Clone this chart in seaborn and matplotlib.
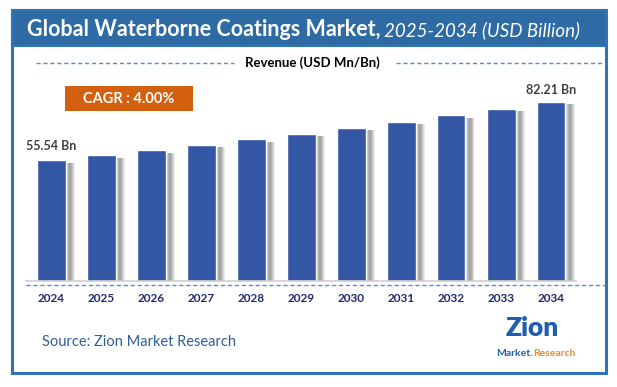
import numpy as np
import pandas as pd
import matplotlib
matplotlib.use("Agg")
import matplotlib.pyplot as plt
import seaborn as sns
from matplotlib.patches import Rectangle
from matplotlib.lines import Line2D

# data
years = ["2024", "2025", "2026", "2027", "2028", "2029", "2030", "2031", "2032", "2033", "2034"]
revenue = [55.54, 57.76, 60.07, 62.47, 64.97, 67.57, 70.28, 73.09, 76.01, 79.05, 82.21]
first_label = "55.54 Bn"
last_label = "82.21 Bn"
cagr_text = "CAGR : 4.00%"

df = pd.DataFrame({"Year": years, "Revenue": revenue})

sns.set_theme(style="white")
plt.rcParams['font.family'] = ['Lato', 'DejaVu Sans']

W, H = 617, 387
fig = plt.figure(figsize=(W / 100, H / 100), dpi=100)

def fx(px):
    return px / W

def fy(py):
    return 1 - py / H

blue_frame = "#2F73B8"
title_blue = "#2E6AA4"
bar_blue = "#3457A5"
dash_blue = "#5A88CC"

# outer frame + title bar
fig.patches.append(Rectangle((fx(12), fy(373)), fx(606) - fx(12), fy(10) - fy(373),
                             transform=fig.transFigure, fill=False, edgecolor=blue_frame, lw=2.2))
fig.patches.append(Rectangle((fx(12), fy(46)), fx(606) - fx(12), fy(10) - fy(46),
                             transform=fig.transFigure, facecolor=title_blue, edgecolor=blue_frame, lw=1.5))

t1 = fig.text(fx(27), fy(29), "Global Waterborne Coatings Market,", color="white",
              fontsize=15.5, fontweight="bold", va="center", ha="left")
fig.canvas.draw()
bb = t1.get_window_extent()
fig.text(bb.x1 / W + fx(4), fy(30), "2025-2034 (USD Billion)", color="white",
         fontsize=13.5, style="italic", va="center", ha="left")

# subtitle with dashed lines
fig.text(fx(312), fy(63), "Revenue (USD Mn/Bn)", color="black", fontsize=9.5,
         fontweight="bold", va="center", ha="center")
fig.lines.append(Line2D([fx(36), fx(234)], [fy(63), fy(63)], transform=fig.transFigure,
                        color=dash_blue, lw=1.0, ls=(0, (3, 2))))
fig.lines.append(Line2D([fx(396), fx(606)], [fy(63), fy(63)], transform=fig.transFigure,
                        color=dash_blue, lw=1.0, ls=(0, (3, 2))))

# CAGR box
fig.patches.append(Rectangle((fx(65), fy(111)), fx(193) - fx(65), fy(86) - fy(111),
                             transform=fig.transFigure, facecolor="#D2600F", edgecolor="none"))
fig.text(fx(129), fy(99), cagr_text, color="white", fontsize=10.5, fontweight="bold",
         va="center", ha="center")

# bar axes
ax = fig.add_axes([fx(26), fy(281), fx(576) - fx(26), fy(63) - fy(281)])
ax.set_facecolor("none")

# soft shadow to the right of each bar: stacked translucent strips
pos = np.arange(len(years))
bw = 0.58
n_strips = 8
for k in range(n_strips):
    ax.bar(pos + bw / 2 + 0.09, df["Revenue"] - 1.2, width=0.18 - k * 0.022,
           align="center", color="#8A8A8A", alpha=0.16, zorder=1, linewidth=0)
sns.barplot(data=df, x="Year", y="Revenue", color=bar_blue, saturation=1,
            width=bw, ax=ax, zorder=2)
ax.set_xlim(-0.5, len(years) - 0.5)
ax.set_ylim(0, 100)
ax.set_xlabel("")
ax.set_ylabel("")
ax.set_yticks([])
for s in ["top", "right", "left"]:
    ax.spines[s].set_visible(False)
ax.spines["bottom"].set_color("#CFCFCF")
ax.spines["bottom"].set_linewidth(1.2)
ax.tick_params(axis="x", length=0, pad=9, labelsize=8.5, labelcolor="#1E2A6E")
for lab in ax.get_xticklabels():
    lab.set_fontweight("bold")

ax.text(0, revenue[0] + 3.5, first_label, ha="center", va="bottom", fontsize=9,
        fontweight="bold", color="#404040")
ax.text(len(years) - 1, revenue[-1] + 2.5, last_label, ha="center", va="bottom",
        fontsize=9, fontweight="bold", color="#404040")

# dashed line under baseline
fig.lines.append(Line2D([fx(26), fx(606)], [fy(285), fy(285)], transform=fig.transFigure,
                        color=dash_blue, lw=1.0, ls=(0, (3, 2))))

# source
fig.text(fx(42), fy(342), "Source: Zion Market Research", color="#2F5E93", fontsize=10.5,
         va="center", ha="left")

# logo approximation
fig.text(fx(532), fy(328), "Zion", color="#1F5FAE", fontsize=19, fontweight="heavy",
         va="center", ha="center")
m1 = fig.text(fx(496), fy(354), "Market.", color="#1F5FAE", fontsize=7.5, fontweight="bold",
              va="center", ha="left")
fig.canvas.draw()
mb = m1.get_window_extent()
fig.text(mb.x1 / W, fy(354), "Research", color="#E8892B", fontsize=7.5, fontweight="bold",
         va="center", ha="left")

fig.savefig("out.png", dpi=100)
